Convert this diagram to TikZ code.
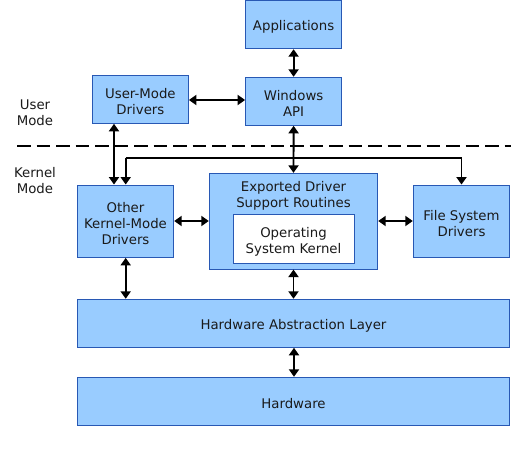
\documentclass[tikz,border=0pt]{standalone}
\usepackage{fontspec}
\setmainfont{DejaVu Sans}
\usetikzlibrary{arrows.meta}
\definecolor{boxfill}{HTML}{99CCFF}
\definecolor{boxline}{HTML}{2858B4}
\definecolor{txt}{HTML}{1A1A1A}
\begin{document}
\begin{tikzpicture}[x=1pt,y=-1pt,
  box/.style={draw=boxline,fill=boxfill,line width=1pt,inner sep=0pt},
  inbox/.style={box,fill=white},
  lbl/.style={align=center,text=txt,inner sep=0pt,font=\fontsize{13.3}{16}\selectfont},
  conn/.style={line width=1.9pt,black},
  bi/.style={conn,{Triangle[length=7.5pt,width=10pt]}-{Triangle[length=7.5pt,width=10pt]}},
  one/.style={conn,-{Triangle[length=7.5pt,width=10pt]}}]
\useasboundingbox (0,0) rectangle (532,452);
% boxes
\node[box,minimum width=96pt,minimum height=48pt] (apps) at (293.6,24.7) {};
\node[box,minimum width=96pt,minimum height=48pt] (winapi) at (293.6,101.3) {};
\node[box,minimum width=96pt,minimum height=48pt] (umd) at (140.4,99.3) {};
\node[box,minimum width=96.4pt,minimum height=72.3pt] (okmd) at (125.5,221.2) {};
\node[box,minimum width=168.4pt,minimum height=95.7pt] (exp) at (293.5,221.2) {};
\node[inbox,minimum width=121pt,minimum height=48.7pt] (osk) at (293.5,239.3) {};
\node[box,minimum width=96.4pt,minimum height=72.3pt] (fsd) at (461.5,221.2) {};
\node[box,minimum width=432.4pt,minimum height=48pt] (hal) at (293.5,323.3) {};
\node[box,minimum width=432.4pt,minimum height=48pt] (hw) at (293.5,401.3) {};
% texts
\node[lbl] (t-apps) at ([yshift=-2.5pt]apps.center) {Applications};
\node[lbl] (t-winapi) at ([yshift=-2.5pt]winapi.center) {Windows\\API};
\node[lbl] (t-umd) at ([yshift=-2.5pt]umd.center) {User-Mode\\Drivers};
\node[lbl] (t-okmd) at ([yshift=-2.5pt]okmd.center) {Other\\Kernel-Mode\\Drivers};
\node[lbl] (t-exp) at (293.5,196.2) {Exported Driver\\Support Routines};
\node[lbl] (t-osk) at ([yshift=-2.5pt]osk.center) {Operating\\System Kernel};
\node[lbl] (t-fsd) at ([yshift=-2.5pt]fsd.center) {File System\\Drivers};
\node[lbl] (t-hal) at ([yshift=-2.5pt]hal.center) {Hardware Abstraction Layer};
\node[lbl] (t-hw) at ([yshift=-2.5pt]hw.center) {Hardware};
% mode labels
\node[lbl] (user) at (35,113) {User\\Mode};
\node[lbl] (kernel) at (35,180.2) {Kernel\\Mode};
% dashed separator
\coordinate (dl) at (17,146.3);
\coordinate (dr) at (511,146.3);
\draw[line width=1.9pt,dash pattern=on 13.5pt off 6pt] (dl) -- (dr);
% connectors
\draw[bi] (apps.south) -- (winapi.north);
\draw[bi] (umd.east |- 0,100) -- (winapi.west |- 0,100);
\draw[bi] (umd.south -| 114,0) -- (okmd.north -| 114,0);
\draw[bi] (winapi.south) -- (exp.north);
\coordinate (bl) at (125.7,158.3);
\coordinate (br) at (461.5,158.3);
\draw[one] (bl) -- (okmd.north -| bl);
\draw[conn] (bl) -- (br);
\draw[one] (br) -- (fsd.north -| br);
\draw[bi] (okmd.east |- 0,221) -- (exp.west |- 0,221);
\draw[bi] (exp.east |- 0,221) -- (fsd.west |- 0,221);
\draw[bi] (okmd.south -| 125.7,0) -- (hal.north -| 125.7,0);
\draw[bi] (exp.south) -- (hal.north -| exp.south);
\draw[bi] (hal.south -| 294,0) -- (hw.north -| 294,0);
\end{tikzpicture}
\end{document}
